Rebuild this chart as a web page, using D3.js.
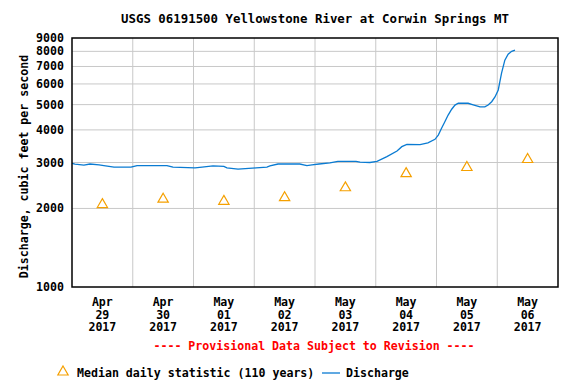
<!DOCTYPE html>
<html>
<head>
<meta charset="utf-8">
<script src="https://cdn.jsdelivr.net/npm/d3@7"></script>
<style>
  html, body { margin: 0; padding: 0; background: #fff; }
  svg { display: block; }
</style>
</head>
<body>
<div class="chart"></div>
<script>
// tick labels
const yTicks = [1000, 2000, 3000, 4000, 5000, 6000, 7000, 8000, 9000]
const dayMonths = ['Apr', 'Apr', 'May', 'May', 'May', 'May', 'May', 'May']
const dayNumbers = ['29', '30', '01', '02', '03', '04', '05', '06']
const dayYears = ['2017', '2017', '2017', '2017', '2017', '2017', '2017', '2017']

// median daily statistic (110 years), one per day at noon
const medianDays = [0, 1, 2, 3, 4, 5, 6, 7]
const medianValues = [2070, 2170, 2130, 2200, 2400, 2720, 2870, 3080]

// discharge, hours since Apr 29 00:00
const dischargeHours = [0, 1.2, 4.7, 7.1, 10.7, 12.6, 16.6, 23.3, 25.7, 37.5, 39.9, 48.6, 51.4, 55.7, 60, 61.2,
  65.6, 72.7, 77, 78.2, 81.4, 90, 92.8, 94.8, 97.6, 101.9, 105, 112.2, 113.8, 117.7, 120.5, 124.4, 128.4,
  130.3, 132.3, 137.5, 140.6, 143.4, 144.7, 146, 147.3, 148.6, 150, 151.3, 152.6, 156.5, 158.5, 161.2,
  163.1, 164.4, 165.8, 167.1, 168.4, 169, 169.7, 171, 172.3, 173.7, 175]
const dischargeValues = [2980, 2960, 2930, 2960, 2940, 2920, 2880, 2880, 2920, 2920, 2880, 2860, 2880, 2910, 2900, 2860,
  2830, 2860, 2880, 2910, 2960, 2960, 2920, 2940, 2960, 2990, 3030, 3030, 3010, 3000, 3030, 3160, 3320,
  3450, 3520, 3510, 3570, 3680, 3820, 4060, 4300, 4560, 4800, 4980, 5060, 5060, 4990, 4900,
  4900, 4980, 5130, 5350, 5690, 6100, 6600, 7400, 7800, 8000, 8090]

const width = 576
const height = 384
const margins = { top: 38, right: 18, bottom: 97, left: 72 }
const innerWidth = width - margins.left - margins.right
const innerHeight = height - margins.top - margins.bottom

const svg = d3.select('.chart')
  .append('svg')
  .attr('width', width)
  .attr('height', height)
  .attr('font-family', 'DejaVu Sans Mono')
  .attr('font-weight', 'bold')
  .attr('font-size', 11.6)

const g = svg.append('g')
  .attr('transform', `translate(${margins.left}, ${margins.top})`)

const x = d3.scaleLinear().domain([0, 192]).range([0, innerWidth])
const y = d3.scaleLog().domain([1000, 9000]).range([innerHeight, 0])

// grid
g.append('g')
  .selectAll('line')
  .data(yTicks.slice(1, -1))
  .join('line')
  .attr('x1', 0).attr('x2', innerWidth)
  .attr('y1', d => y(d)).attr('y2', d => y(d))
  .attr('stroke', '#c8c8c8')

g.append('g')
  .selectAll('line')
  .data(d3.range(1, 8))
  .join('line')
  .attr('x1', d => x(d * 24)).attr('x2', d => x(d * 24))
  .attr('y1', 0).attr('y2', innerHeight)
  .attr('stroke', '#c8c8c8')

// y axis labels
g.append('g')
  .selectAll('text')
  .data(yTicks)
  .join('text')
  .attr('x', -8)
  .attr('y', d => y(d) + 4)
  .attr('text-anchor', 'end')
  .text(d => d3.format('d')(d))

// x labels, three rows
const rows = [dayMonths, dayNumbers, dayYears]
rows.forEach((row, r) => {
  g.append('g')
    .selectAll('text')
    .data(row)
    .join('text')
    .attr('x', (d, i) => x(i * 24 + 12))
    .attr('y', innerHeight + 19 + r * 12.5)
    .attr('text-anchor', 'middle')
    .text(d => d)
})

// discharge line
const discharge = dischargeHours.map((h, i) => ({ h: h, v: dischargeValues[i] }))
g.append('path')
  .datum(discharge)
  .attr('fill', 'none')
  .attr('stroke', '#0a7bd2')
  .attr('stroke-width', 1.3)
  .attr('d', d3.line().x(d => x(d.h)).y(d => y(d.v)))

// median triangles
const tri = d3.symbol().type(d3.symbolTriangle).size(46)
g.append('g')
  .selectAll('path')
  .data(medianDays)
  .join('path')
  .attr('transform', (d, i) => `translate(${x(d * 24 + 12)}, ${y(medianValues[i])})`)
  .attr('d', tri)
  .attr('fill', 'none')
  .attr('stroke', '#f5a000')
  .attr('stroke-width', 1.2)

// frame
g.append('rect')
  .attr('width', innerWidth)
  .attr('height', innerHeight)
  .attr('fill', 'none')
  .attr('stroke', '#000')
  .attr('stroke-width', 1.5)

// title
svg.append('text')
  .attr('x', margins.left + innerWidth / 2)
  .attr('y', 23)
  .attr('text-anchor', 'middle')
  .attr('font-size', 12.4)
  .text('USGS 06191500 Yellowstone River at Corwin Springs MT')

// y title
svg.append('text')
  .attr('transform', `translate(28, ${margins.top + innerHeight / 2 + 4}) rotate(-90)`)
  .attr('text-anchor', 'middle')
  .text('Discharge, cubic feet per second')

// provisional
svg.append('text')
  .attr('x', 314)
  .attr('y', 350)
  .attr('text-anchor', 'middle')
  .attr('fill', '#ff0000')
  .text('---- Provisional Data Subject to Revision ----')

// legend
const legend = svg.append('g').attr('transform', 'translate(0, 377)')
legend.append('path')
  .attr('transform', 'translate(63, -5)')
  .attr('d', tri)
  .attr('fill', 'none')
  .attr('stroke', '#f5a000')
  .attr('stroke-width', 1.2)
legend.append('text')
  .attr('x', 77)
  .text('Median daily statistic (110 years)')
legend.append('line')
  .attr('x1', 322).attr('x2', 340)
  .attr('y1', -4).attr('y2', -4)
  .attr('stroke', '#0a7bd2')
  .attr('stroke-width', 1.3)
legend.append('text')
  .attr('x', 346)
  .text('Discharge')
</script>
</body>
</html>
